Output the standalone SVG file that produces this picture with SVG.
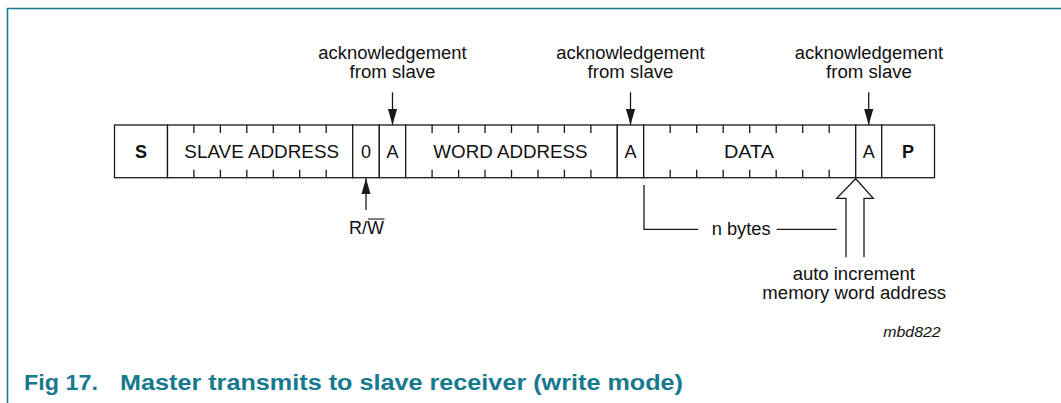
<svg xmlns="http://www.w3.org/2000/svg" width="1061" height="403" viewBox="0 0 1061 403">
<style>
.t{font-family:"Liberation Sans",Arial,sans-serif;font-size:18px;fill:#111;text-anchor:middle}
.b{font-weight:bold}
.ln{stroke:#1a1a1a;stroke-width:1.3;fill:none}
.cell{stroke:#1a1a1a;stroke-width:1.3;fill:#fff}
.cap{font-family:"Liberation Sans",Arial,sans-serif;font-size:21.5px;font-weight:bold;fill:#17798d}
</style>
<defs>
<marker id="ah" viewBox="0 0 16 10" refX="16" refY="5" markerWidth="16" markerHeight="10" markerUnits="userSpaceOnUse" orient="auto">
<path d="M0,0.4 L16,5 L0,9.6 Z" fill="#1a1a1a"/>
</marker>
</defs>
<rect width="1061" height="403" fill="#fff"/>
<path d="M7.5,403 V8.5 H1061" stroke="#17798d" stroke-width="1.6" fill="none"/>

<g id="S"><rect class="cell" x="114.5" y="125" width="53" height="52.7"/><text class="t b" x="141" y="157.8">S</text></g>
<g id="slave-address"><rect class="cell" x="167.5" y="125" width="185.2" height="52.7"/>
<path class="ln" d="M193.9,125v8M220.4,125v8M246.8,125v8M273.3,125v8M299.7,125v8M326.2,125v8M193.9,177.7v-8M220.4,177.7v-8M246.8,177.7v-8M273.3,177.7v-8M299.7,177.7v-8M326.2,177.7v-8"/>
<text class="t" x="261.7" y="157.8" textLength="154.7" lengthAdjust="spacingAndGlyphs">SLAVE ADDRESS</text></g>
<g id="rw-bit"><rect class="cell" x="352.7" y="125" width="26.6" height="52.7"/><text class="t" x="366" y="157.8">0</text></g>
<g id="ack1"><rect class="cell" x="379.3" y="125" width="26.4" height="52.7"/><text class="t" x="392.5" y="157.8">A</text></g>
<g id="word-address"><rect class="cell" x="405.7" y="125" width="211.6" height="52.7"/>
<path class="ln" d="M432.1,125v8M458.6,125v8M485,125v8M511.5,125v8M538,125v8M564.4,125v8M590.9,125v8M432.1,177.7v-8M458.6,177.7v-8M485,177.7v-8M511.5,177.7v-8M538,177.7v-8M564.4,177.7v-8M590.9,177.7v-8"/>
<text class="t" x="510.5" y="157.8" textLength="154.3" lengthAdjust="spacingAndGlyphs">WORD ADDRESS</text></g>
<g id="ack2"><rect class="cell" x="617.3" y="125" width="26.4" height="52.7"/><text class="t" x="630.5" y="157.8">A</text></g>
<g id="data"><rect class="cell" x="643.7" y="125" width="212" height="52.7"/>
<path class="ln" d="M670.2,125v8M696.7,125v8M723.2,125v8M749.7,125v8M776.2,125v8M802.7,125v8M829.2,125v8M670.2,177.7v-8M696.7,177.7v-8M723.2,177.7v-8M749.7,177.7v-8M776.2,177.7v-8M802.7,177.7v-8M829.2,177.7v-8"/>
<text class="t" x="749" y="157.8" textLength="50" lengthAdjust="spacingAndGlyphs">DATA</text></g>
<g id="ack3"><rect class="cell" x="855.7" y="125" width="26" height="52.7"/><text class="t" x="868.7" y="157.8">A</text></g>
<g id="P"><rect class="cell" x="881.7" y="125" width="52.8" height="52.7"/><text class="t b" x="908" y="157.8">P</text></g>

<g id="labels">
<text class="t" x="392.5" y="58.5" textLength="148.4" lengthAdjust="spacingAndGlyphs">acknowledgement</text>
<text class="t" x="392.5" y="78" textLength="86" lengthAdjust="spacingAndGlyphs">from slave</text>
<text class="t" x="630.5" y="58.5" textLength="148.4" lengthAdjust="spacingAndGlyphs">acknowledgement</text>
<text class="t" x="630.5" y="78" textLength="86" lengthAdjust="spacingAndGlyphs">from slave</text>
<text class="t" x="869" y="58.5" textLength="148.4" lengthAdjust="spacingAndGlyphs">acknowledgement</text>
<text class="t" x="869" y="78" textLength="86" lengthAdjust="spacingAndGlyphs">from slave</text>
<text class="t" x="366.5" y="234" textLength="35" lengthAdjust="spacingAndGlyphs">R/W</text>
<line x1="368" y1="219" x2="384.5" y2="219" stroke="#1a1a1a" stroke-width="1.1"/>
<text class="t" x="741.2" y="235" textLength="59" lengthAdjust="spacingAndGlyphs">n bytes</text>
<text class="t" x="853.8" y="280" textLength="122.3" lengthAdjust="spacingAndGlyphs">auto increment</text>
<text class="t" x="854.2" y="299.3" textLength="183.7" lengthAdjust="spacingAndGlyphs">memory word address</text>
<text class="t" x="912" y="336.7" style="font-size:15.5px;font-style:italic" textLength="57.4" lengthAdjust="spacingAndGlyphs">mbd822</text>
</g>

<g id="connectors">
<line class="ln" x1="392.5" y1="92.3" x2="392.5" y2="125" marker-end="url(#ah)"/>
<line class="ln" x1="630.5" y1="92.3" x2="630.5" y2="125" marker-end="url(#ah)"/>
<line class="ln" x1="868.7" y1="92.3" x2="868.7" y2="125" marker-end="url(#ah)"/>
<line class="ln" x1="366" y1="210" x2="366" y2="178.3" marker-end="url(#ah)"/>
<path class="ln" d="M644,185 V229.3 H698.3 M776.7,229.3 H836.7"/>
<path d="M846,257.3 V198.3 H836.7 L855.7,178.8 L873.3,198.3 H864 V257.3" fill="#fff" stroke="#1a1a1a" stroke-width="1.3"/>
</g>

<g id="caption">
<text class="cap" x="24" y="389.5" textLength="74" lengthAdjust="spacingAndGlyphs">Fig 17.</text>
<text class="cap" x="120" y="389.5" textLength="563" lengthAdjust="spacingAndGlyphs">Master transmits to slave receiver (write mode)</text>
</g>
</svg>
